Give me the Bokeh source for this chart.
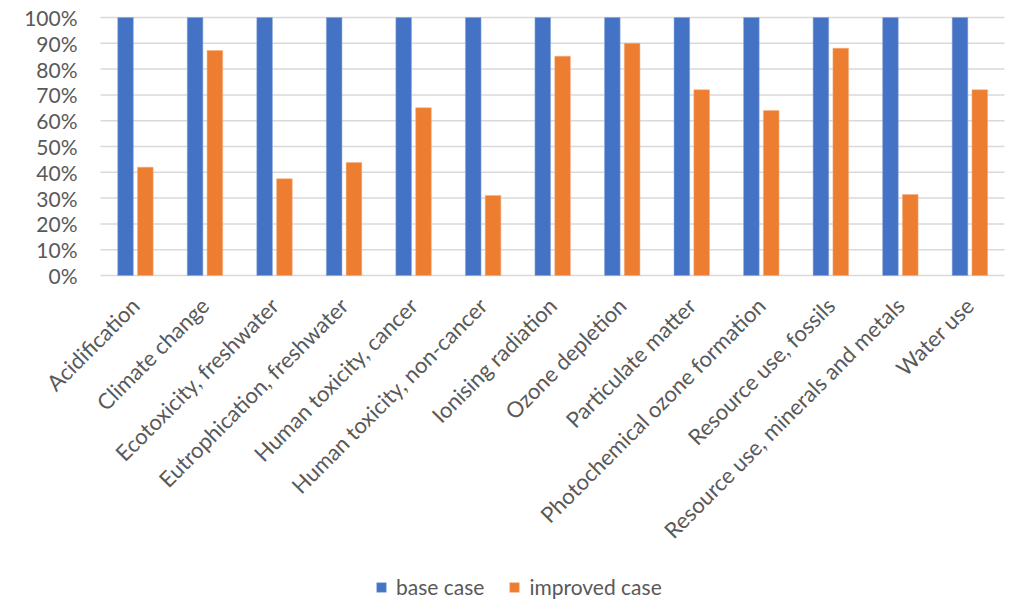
import math
from bokeh.plotting import figure
from bokeh.models import ColumnDataSource, Legend, LegendItem, Range1d
from bokeh.core.properties import value
from bokeh.transform import dodge
from bokeh.embed import file_html
from bokeh.resources import INLINE

categories = ["Acidification", "Climate change", "Ecotoxicity, freshwater",
              "Eutrophication, freshwater", "Human toxicity, cancer",
              "Human toxicity, non-cancer", "Ionising radiation", "Ozone depletion",
              "Particulate matter", "Photochemical ozone formation",
              "Resource use, fossils", "Resource use, minerals and metals", "Water use"]
base_case = [1.0] * 13
improved_case = [0.42, 0.872, 0.375, 0.438, 0.65, 0.31, 0.85, 0.90, 0.72, 0.64, 0.881, 0.314, 0.72]
y_ticks = [0.0, 0.1, 0.2, 0.3, 0.4, 0.5, 0.6, 0.7, 0.8, 0.9, 1.0]
y_tick_labels = ["0%", "10%", "20%", "30%", "40%", "50%", "60%", "70%", "80%", "90%", "100%"]

FONT = "Lato"
GREY = "#595959"

n = len(categories)
centers = [i + 0.5 for i in range(n)]          # category slot centres on the x scale
src = ColumnDataSource(dict(cat=categories, xc=centers, base=base_case, imp=improved_case,
                            zero=[0.0] * n))
ysrc = ColumnDataSource(dict(y=y_ticks, lab=y_tick_labels, x0=[0.0] * len(y_ticks),
                             x1=[float(n)] * len(y_ticks)))

# plot area 100..1004 px wide (13 slots) and 0..100% between 17 and 275 px from the top
PX_X = 904 / n
PX_Y = 258.0
p = figure(x_range=Range1d(-100 / PX_X, n + 9 / PX_X),
           y_range=Range1d(-326 / PX_Y, 1.0 + 17 / PX_Y),
           width=1013, height=601, output_backend="svg", toolbar_location=None,
           x_axis_location=None, y_axis_location=None, min_border=0)
p.outline_line_color = None
p.xgrid.visible = False
p.ygrid.visible = False

# horizontal gridlines
p.segment(x0="x0", x1="x1", y0="y", y1="y", source=ysrc, line_color="#d9d9d9", line_width=1.5)

r1 = p.vbar(x=dodge("xc", -0.14), top="base", width=0.225, source=src,
            fill_color="#4472C4", line_color="#8FAADC", line_width=0.5)
r2 = p.vbar(x=dodge("xc", 0.145), top="imp", width=0.225, source=src,
            fill_color="#ED7D31", line_color="#F4B183", line_width=0.5)

# y tick labels
p.text(x="x0", y="y", text="lab", source=ysrc, text_align="right", text_baseline="middle",
       x_offset=-23, text_font=value(FONT), text_font_size=value("21px"), text_color=GREY)

# category labels, rotated 45 degrees, ending just below each slot's centre
p.text(x="xc", y="zero", text="cat", source=src, angle=math.pi / 4,
       text_align="right", text_baseline="middle", x_offset=0, y_offset=26,
       text_font=value(FONT), text_font_size=value("22px"), text_color=GREY)

legend = Legend(items=[LegendItem(label="base case", renderers=[r1]),
                       LegendItem(label="improved case", renderers=[r2])],
                orientation="horizontal", location=(375, 2),
                label_text_font=FONT, label_text_font_size="21px", label_text_color=GREY,
                border_line_color=None, background_fill_alpha=0,
                glyph_width=12, glyph_height=12, label_height=21, spacing=24,
                padding=0, margin=0, label_standoff=9)
p.add_layout(legend, "center")

open("out.html", "w").write(file_html(p, INLINE))
